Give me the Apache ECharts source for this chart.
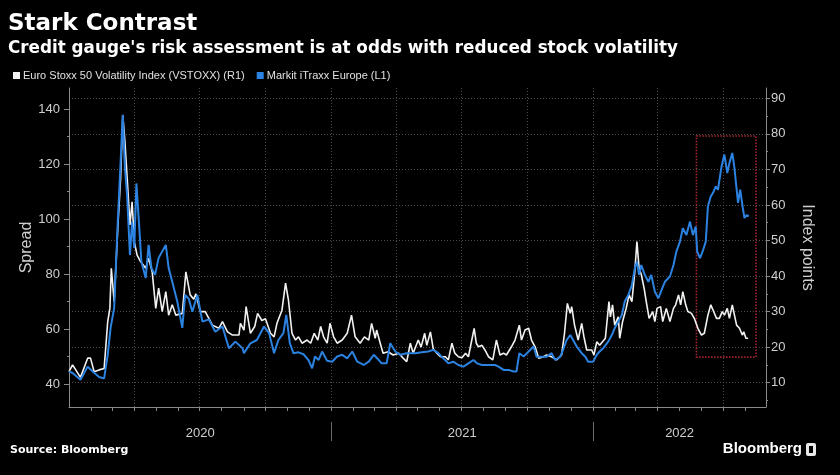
<!DOCTYPE html>
<html>
<head>
<meta charset="utf-8">
<script src="https://cdn.jsdelivr.net/npm/echarts@6/dist/echarts.min.js"></script>
<style>
html,body{margin:0;padding:0;background:#000;}
#chart{width:840px;height:475px;}
</style>
</head>
<body>
<div id="chart"></div>
<script>
// ---- data ----
const itraxxDates = ['2020-01-01','2020-01-06','2020-01-17','2020-01-27','2020-02-03','2020-02-12','2020-02-19','2020-02-24','2020-02-28','2020-03-04','2020-03-09','2020-03-13','2020-03-16','2020-03-19','2020-03-22','2020-03-26','2020-03-29','2020-04-01','2020-04-04','2020-04-08','2020-04-11','2020-04-17','2020-04-21','2020-04-25','2020-04-30','2020-05-05','2020-05-15','2020-05-19','2020-05-24','2020-05-31','2020-06-07','2020-06-11','2020-06-16','2020-06-21','2020-06-28','2020-07-05','2020-07-14','2020-07-23','2020-08-02','2020-08-11','2020-08-20','2020-08-30','2020-09-01','2020-09-10','2020-09-19','2020-09-29','2020-10-06','2020-10-13','2020-10-19','2020-10-26','2020-10-30','2020-11-04','2020-11-09','2020-11-16','2020-11-23','2020-11-30','2020-12-05','2020-12-09','2020-12-14','2020-12-19','2020-12-26','2021-01-02','2021-01-09','2021-01-16','2021-01-23','2021-01-30','2021-02-06','2021-02-15','2021-02-22','2021-03-01','2021-03-08','2021-03-12','2021-03-19','2021-03-24','2021-03-31','2021-04-07','2021-04-16','2021-04-28','2021-05-07','2021-05-16','2021-05-23','2021-05-30','2021-06-06','2021-06-13','2021-06-20','2021-06-27','2021-07-04','2021-07-11','2021-07-18','2021-07-23','2021-07-30','2021-08-08','2021-08-17','2021-08-22','2021-08-29','2021-09-05','2021-09-12','2021-09-16','2021-09-20','2021-09-26','2021-10-03','2021-10-10','2021-10-14','2021-10-21','2021-10-28','2021-11-04','2021-11-09','2021-11-16','2021-11-20','2021-11-25','2021-11-30','2021-12-04','2021-12-09','2021-12-16','2021-12-21','2021-12-25','2022-01-01','2022-01-06','2022-01-10','2022-01-15','2022-01-22','2022-01-27','2022-01-31','2022-02-05','2022-02-10','2022-02-14','2022-02-19','2022-02-24','2022-02-28','2022-03-03','2022-03-06','2022-03-09','2022-03-14','2022-03-19','2022-03-23','2022-03-28','2022-04-02','2022-04-06','2022-04-11','2022-04-18','2022-04-23','2022-04-27','2022-05-02','2022-05-06','2022-05-11','2022-05-16','2022-05-20','2022-05-24','2022-05-26','2022-05-30','2022-06-03','2022-06-07','2022-06-10','2022-06-14','2022-06-17','2022-06-21','2022-06-24','2022-06-29','2022-07-03','2022-07-07','2022-07-10','2022-07-14','2022-07-17','2022-07-22','2022-07-25','2022-07-29','2022-07-31','2022-08-03','2022-08-06'];
const itraxxValues = [44.5,44.0,41.5,46.3,44.5,42.5,42.0,50.6,60.4,67.7,99,121,138,118.6,108.8,87,99,89.5,113,96.8,84.4,78.6,90.6,82.2,79.7,85.9,90.6,82.2,77.2,70,60.4,72.4,71,66.3,72.4,62.7,63.5,59,60.9,53,55.4,53,51.2,54.8,56,60.9,58.5,51.2,56,58.5,65.1,54.8,51.2,51.5,50.8,48.7,45.7,50,48.7,51.8,48.4,48.1,50,50.6,49.3,51.8,48.1,46.9,48.1,50.6,48.7,47.5,47.5,54.8,51.8,50.6,51.2,51.2,51.5,51.8,52.4,51.2,49.3,47.5,48.1,46.9,46.3,47.5,48.7,47.5,46.9,46.9,46.9,46.3,45.1,45.1,44.5,44.5,51.2,50,51.8,53.6,49.9,49.9,49.9,51.2,48.7,49.9,52.4,56,57.8,56,53.6,51.2,49.9,48.1,48.1,50.6,51.8,53,55.4,57.8,60.3,62.7,65.1,70,72.4,76,82.1,84.5,79.7,83.3,79.7,77.2,79.7,73.6,71.2,74,77.2,79.1,83.3,88.2,91.8,96.7,94.2,99.1,94.2,97.3,88.2,85.8,88.5,91.8,104.6,108.3,109.5,111.9,110.7,119.2,123.5,116.8,120.4,124.1,118.6,105.9,110.7,103.5,100.4,101.5,101];

const vstoxxDates = ['2020-01-01','2020-01-06','2020-01-17','2020-01-27','2020-01-31','2020-02-05','2020-02-12','2020-02-19','2020-02-24','2020-02-27','2020-02-29','2020-03-04','2020-03-09','2020-03-13','2020-03-16','2020-03-19','2020-03-23','2020-03-26','2020-03-29','2020-04-01','2020-04-05','2020-04-10','2020-04-17','2020-04-21','2020-04-26','2020-05-01','2020-05-05','2020-05-10','2020-05-15','2020-05-19','2020-05-24','2020-05-29','2020-06-07','2020-06-12','2020-06-18','2020-06-23','2020-06-26','2020-07-02','2020-07-09','2020-07-19','2020-07-28','2020-08-02','2020-08-09','2020-08-16','2020-08-25','2020-08-27','2020-09-01','2020-09-04','2020-09-10','2020-09-16','2020-09-20','2020-09-26','2020-10-01','2020-10-08','2020-10-13','2020-10-17','2020-10-24','2020-10-29','2020-11-02','2020-11-07','2020-11-12','2020-11-16','2020-11-21','2020-11-28','2020-12-03','2020-12-08','2020-12-13','2020-12-17','2020-12-21','2020-12-26','2020-12-30','2021-01-04','2021-01-09','2021-01-16','2021-01-23','2021-01-29','2021-02-03','2021-02-10','2021-02-16','2021-02-22','2021-02-26','2021-03-03','2021-03-05','2021-03-10','2021-03-14','2021-03-21','2021-03-28','2021-04-05','2021-04-11','2021-04-16','2021-04-21','2021-04-25','2021-05-02','2021-05-06','2021-05-11','2021-05-14','2021-05-19','2021-05-23','2021-05-28','2021-06-02','2021-06-09','2021-06-13','2021-06-18','2021-06-22','2021-06-27','2021-07-02','2021-07-07','2021-07-11','2021-07-19','2021-07-22','2021-07-25','2021-07-30','2021-08-03','2021-08-08','2021-08-14','2021-08-19','2021-08-24','2021-08-29','2021-09-02','2021-09-09','2021-09-14','2021-09-20','2021-09-23','2021-09-28','2021-10-03','2021-10-07','2021-10-12','2021-10-17','2021-10-24','2021-10-28','2021-11-04','2021-11-11','2021-11-18','2021-11-22','2021-11-26','2021-11-30','2021-12-02','2021-12-06','2021-12-11','2021-12-16','2021-12-19','2021-12-23','2021-12-30','2022-01-02','2022-01-06','2022-01-10','2022-01-18','2022-01-23','2022-01-25','2022-01-28','2022-01-31','2022-02-05','2022-02-07','2022-02-11','2022-02-16','2022-02-20','2022-02-24','2022-02-28','2022-03-03','2022-03-06','2022-03-09','2022-03-13','2022-03-16','2022-03-20','2022-03-25','2022-03-28','2022-03-31','2022-04-05','2022-04-08','2022-04-13','2022-04-18','2022-04-23','2022-04-26','2022-04-30','2022-05-03','2022-05-06','2022-05-10','2022-05-13','2022-05-18','2022-05-22','2022-05-27','2022-06-01','2022-06-05','2022-06-10','2022-06-14','2022-06-17','2022-06-22','2022-06-26','2022-06-30','2022-07-03','2022-07-07','2022-07-10','2022-07-14','2022-07-17','2022-07-20','2022-07-24','2022-07-28','2022-07-30','2022-08-02','2022-08-05'];
const vstoxxValues = [13.1,15,11.5,16.9,16.9,13.1,13.6,14,27.2,30.9,42.2,32.8,53.4,67.5,85.3,77.8,64.7,54.4,60.9,49.7,45.9,44,42.2,45,41.2,30.9,36.6,30,35.6,29,31.9,29,29.5,41.2,34.7,33.5,35,30,30,26.2,25.3,27.2,24.3,23.4,23.4,26.7,24.8,31.4,23.9,25.8,29.5,27.5,28,23.9,22.9,26.7,30.4,38,33.3,23.9,22,22.9,21.1,22,21.1,23.9,22,25.8,22.9,21.1,26.7,22.9,21.1,22,23.9,29,22.9,21.1,22.9,22,26.7,22.5,24.8,21.1,18.3,18.7,17.8,18.3,16.9,15.9,21.1,18.3,22,20,23.9,20.5,24.3,19.5,18.3,17.3,17.3,16.4,21.1,18.3,17.3,17,18.3,17.3,25.3,21.1,20.1,20.5,19.2,17.3,16.4,22,17.8,18.3,17.8,20.1,22,26.2,22,24.8,25.3,22,20.1,16.9,17.3,17.8,17.3,16.4,17.8,23.9,32.3,29.5,31.4,26.2,22,26.7,23,19.2,19.2,17.8,21.5,20.5,22.5,32.8,28.5,31.9,26.2,28.5,22.5,27.2,30.9,34.7,32.8,41.2,49.7,42.2,40.5,36.6,32.8,28.1,30,27.2,30.9,31.4,27.2,30.9,27.2,30.9,31.9,34.7,31.9,35.6,31.9,30,29.5,28.1,25.3,23.4,23.9,29,31.9,30.5,28.1,28.1,30,29,30.9,28.1,31.9,29,26.2,25.3,23.4,24.3,22.5,22.5];

// axis ticks / labels
const leftTicks = [40, 60, 80, 100, 120, 140];
const leftMinorTicks = [50, 70, 90, 110, 130];
const rightTicks = [10, 20, 30, 40, 50, 60, 70, 80, 90];
const rightMinorTicks = [5, 15, 25, 35, 45, 55, 65, 75, 85];
const yearLabels = ['2020', '2021', '2022'];
const xMin = '2020-01-01';
const xMax = '2022-08-30';
const leftRange = [31.6, 147.75];
const rightRange = [3.16, 92.9];

// annotation box (red dotted rectangle) in data coordinates
const boxDates = ['2022-05-25', '2022-08-16'];
const boxRange = [79.4, 17.2];

const seriesNames = ['Euro Stoxx 50 Volatility Index (VSTOXX) (R1)', 'Markit iTraxx Europe (L1)'];

// ---- derived ----
function ts(s){ const p = s.split('-'); return new Date(+p[0], +p[1]-1, +p[2]).getTime(); }
const minT = ts(xMin), maxT = ts(xMax);
const monthTicks = [], quarterTicks = [];
for (let y = 2020; y <= 2022; y++) {
  for (let m = 0; m < 12; m++) {
    const t = new Date(y, m, 1).getTime();
    if (t > minT && t < maxT) {
      monthTicks.push(t);
      if (m % 3 === 0) quarterTicks.push(t);
    }
  }
}
const yearBounds = yearLabels.slice(1).map(y => new Date(+y, 0, 1).getTime());
const yearCenters = yearLabels.map(y => {
  const s = Math.max(new Date(+y, 0, 1).getTime(), minT);
  const e = Math.min(new Date(+y + 1, 0, 1).getTime(), maxT);
  return (s + e) / 2;
});

const itraxxData = itraxxDates.map((d, i) => [ts(d), itraxxValues[i]]);
const vstoxxData = vstoxxDates.map((d, i) => [ts(d), vstoxxValues[i]]);

const FONT = "'Liberation Sans', Arial, sans-serif";
const axisGray = '#8a8a8a';
const labelColor = '#cfcfcf';
const gridColor = '#4a4a4a';

const chart = echarts.init(document.getElementById('chart'), null, {renderer: 'canvas'});
chart.setOption({
  backgroundColor: '#000',
  animation: false,
  textStyle: {fontFamily: FONT},
  title: {
    text: 'Stark Contrast',
    subtext: "Credit gauge's risk assessment is at odds with reduced stock volatility",
    left: 8, top: 13, itemGap: 4, padding: 0,
    textStyle: {color: '#fff', fontSize: 23, fontWeight: 'bold', fontFamily: "'DejaVu Sans', sans-serif"},
    subtextStyle: {color: '#fff', fontSize: 16.8, fontWeight: 'bold', fontFamily: "'DejaVu Sans', sans-serif"}
  },
  legend: {
    data: seriesNames,
    left: 13, top: 70, padding: 0,
    icon: 'rect', itemWidth: 7, itemHeight: 7, itemGap: 12,
    textStyle: {color: '#e0e0e0', fontSize: 11, fontFamily: FONT, padding: [0, 0, 0, -2]}
  },
  grid: {left: 69, right: 74, top: 88, bottom: 68, containLabel: false},
  xAxis: [
    {
      type: 'value', min: minT, max: maxT, position: 'bottom',
      axisLine: {show: true, lineStyle: {color: axisGray, width: 1}},
      axisTick: {show: true, customValues: monthTicks, length: 4, lineStyle: {color: axisGray}},
      axisLabel: {show: false},
      splitLine: {show: false}
    },
    {
      type: 'value', min: minT, max: maxT, position: 'bottom',
      axisLine: {show: false},
      axisTick: {show: false, customValues: quarterTicks},
      axisLabel: {show: false},
      splitLine: {show: true, lineStyle: {color: gridColor, type: [1, 2], width: 1}}
    },
    {
      type: 'value', min: minT, max: maxT, position: 'bottom', offset: 15,
      axisLine: {show: false},
      axisTick: {show: true, customValues: yearBounds, length: 19, lineStyle: {color: '#6a6a6a'}},
      axisLabel: {show: true, customValues: yearCenters, margin: 5, color: labelColor, fontSize: 13, fontFamily: FONT,
        formatter: v => String(new Date(v).getFullYear())},
      splitLine: {show: false}
    }
  ],
  yAxis: [
    {
      type: 'value', position: 'left', min: leftRange[0], max: leftRange[1],
      name: 'Spread', nameLocation: 'middle', nameGap: 34, nameMoveOverlap: false,
      nameTextStyle: {color: labelColor, fontSize: 16, fontFamily: FONT},
      axisLine: {show: true, lineStyle: {color: axisGray}},
      axisTick: {show: true, customValues: leftTicks, length: 5, lineStyle: {color: axisGray}},
      axisLabel: {customValues: leftTicks, margin: 9, color: labelColor, fontSize: 13, fontFamily: FONT},
      splitLine: {show: false}
    },
    {
      type: 'value', position: 'right', min: rightRange[0], max: rightRange[1],
      name: 'Index points', nameLocation: 'middle', nameGap: 33, nameRotate: -90, nameMoveOverlap: false,
      nameTextStyle: {color: labelColor, fontSize: 16, fontFamily: FONT},
      axisLine: {show: true, lineStyle: {color: axisGray}},
      axisTick: {show: true, customValues: rightTicks, length: 4, lineStyle: {color: axisGray}},
      axisLabel: {customValues: rightTicks, margin: 5, color: labelColor, fontSize: 13, fontFamily: FONT},
      splitLine: {show: true, lineStyle: {color: gridColor, type: [1, 2], width: 1}}
    },
    {
      type: 'value', position: 'left', min: leftRange[0], max: leftRange[1],
      axisLine: {show: false},
      axisTick: {show: true, customValues: leftMinorTicks, length: 2, lineStyle: {color: axisGray}},
      axisLabel: {show: false}, splitLine: {show: false}
    },
    {
      type: 'value', position: 'right', min: rightRange[0], max: rightRange[1],
      axisLine: {show: false},
      axisTick: {show: true, customValues: rightMinorTicks, length: 2, lineStyle: {color: axisGray}},
      axisLabel: {show: false}, splitLine: {show: false}
    }
  ],
  series: [
    {
      name: seriesNames[0], type: 'line', xAxisIndex: 0, yAxisIndex: 1,
      data: vstoxxData, showSymbol: false, symbol: 'none',
      itemStyle: {color: '#f2f2f2'},
      lineStyle: {color: '#f2f2f2', width: 1.6},
      markArea: {
        silent: true,
        itemStyle: {color: 'rgba(0,0,0,0)', borderColor: '#a82634', borderWidth: 1.6, borderType: [1.5, 1.5]},
        data: [[{xAxis: ts(boxDates[0]), yAxis: boxRange[0]}, {xAxis: ts(boxDates[1]), yAxis: boxRange[1]}]]
      }
    },
    {
      name: seriesNames[1], type: 'line', xAxisIndex: 0, yAxisIndex: 0,
      data: itraxxData, showSymbol: false, symbol: 'none',
      itemStyle: {color: '#2b82e0'},
      lineStyle: {color: '#2b82e0', width: 2}
    }
  ],
  graphic: [
    {type: 'text', left: 10, top: 445,
      style: {text: 'Source: Bloomberg', fill: '#fff', font: "bold 11px 'DejaVu Sans', sans-serif"}},
    {type: 'text', right: 38, top: 441,
      style: {text: 'Bloomberg', fill: '#fff', font: "bold 15px 'Liberation Sans', Arial, sans-serif"}},
    {type: 'rect', right: 24, top: 443, shape: {width: 10, height: 13, r: 2}, style: {fill: '#e8e8e8'}},
    {type: 'rect', right: 27, top: 446, shape: {width: 4, height: 7}, style: {fill: '#000'}}
  ]
});
</script>
</body>
</html>
